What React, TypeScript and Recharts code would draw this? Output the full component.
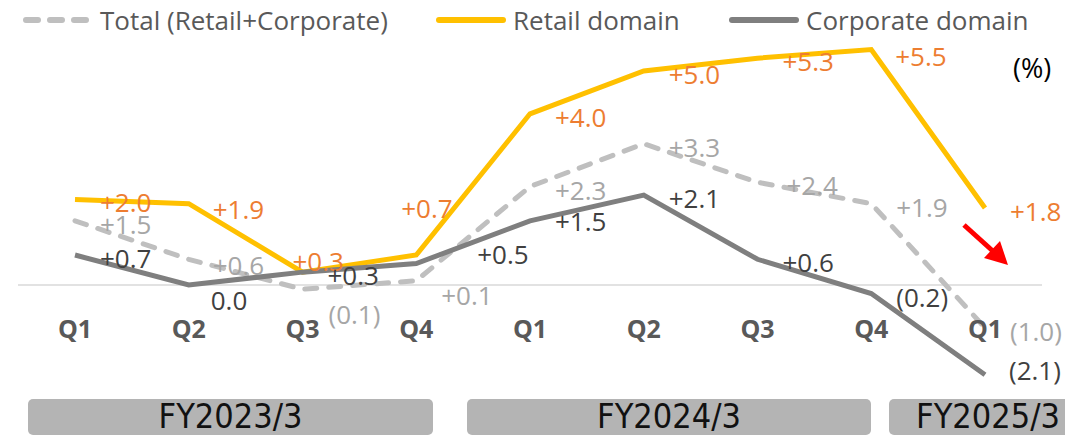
import { LineChart, Line, XAxis, YAxis, ReferenceLine, LabelList } from 'recharts';

const quarters = ['Q1', 'Q2', 'Q3', 'Q4', 'Q1', 'Q2', 'Q3', 'Q4', 'Q1'];
const total = [1.5, 0.6, -0.1, 0.1, 2.3, 3.3, 2.4, 1.9, -1.0];
const retail = [2.0, 1.9, 0.3, 0.7, 4.0, 5.0, 5.3, 5.5, 1.8];
const corporate = [0.7, 0.0, 0.3, 0.5, 1.5, 2.1, 0.6, -0.2, -2.1];
const fiscalYears = ['FY2023/3', 'FY2024/3', 'FY2025/3'];

const data = quarters.map((q, i) => ({ q, total: total[i], retail: retail[i], corporate: corporate[i] }));

const FONT = '"Segoe UI", "Open Sans", sans-serif';

// label nudges (dx from point to text start, dy from point to text middle)
const retailNudge: Record<number, [number, number]> = { 1: [24, 5], 2: [-10, -11], 3: [-15, -47], 7: [24, 6] };
const totalNudge: Record<number, [number, number]> = { 1: [24, 6], 2: [26, 25], 3: [25, 14], 6: [29, 3] };
const corpNudge: Record<number, [number, number]> = { 1: [22, 15], 3: [61, -10], 4: [25, 0], 8: [24, -5] };

const fmt = (v: number) => (v > 0 ? '+' + v.toFixed(1) : v === 0 ? '0.0' : '(' + Math.abs(v).toFixed(1) + ')');

const makeLabel = (color: string, nudge: Record<number, [number, number]>) => (props: any) => {
  const { x, y, value, index } = props;
  const [dx, dy] = nudge[index] ?? [25, 3];
  return (
    <text x={x + dx} y={y + dy} fill={color} fontSize={26} fontFamily={FONT} dominantBaseline="central" textAnchor="start">
      {fmt(value)}
    </text>
  );
};

const renderQTick = (props: any) => {
  const { x, y, payload } = props;
  return (
    <text x={x} y={y - 63} fill="#595959" fontSize={25} fontWeight={700} fontFamily={FONT} textAnchor="middle" dominantBaseline="central">
      {payload.value}
    </text>
  );
};

const legendItems = [
  { name: 'Total (Retail+Corporate)', color: '#BFBFBF', dash: '12 12', left: 22 },
  { name: 'Retail domain', color: '#FFC000', dash: undefined, left: 435 },
  { name: 'Corporate domain', color: '#7F7F7F', dash: undefined, left: 728 },
];

const fyBoxes = [
  { left: 28, width: 405 },
  { left: 467, width: 404 },
  { left: 889, width: 198 },
];

export default function App() {
  return (
    <div style={{ position: 'absolute', left: 0, top: 0, width: 1065, height: 435, overflow: 'hidden', background: '#fff' }}>
      <LineChart width={1065} height={435} data={data} margin={{ top: 32.5, right: 23, bottom: 21.6, left: 18 }}>
        <YAxis hide domain={[-2.3, 5.9]} allowDataOverflow />
        <XAxis dataKey="q" axisLine={false} tickLine={false} padding={{ left: 57, right: 57 }} tick={renderQTick} interval={0} />
        <ReferenceLine y={0} stroke="#D9D9D9" strokeWidth={1.5} />
        <Line dataKey="total" stroke="#BFBFBF" strokeWidth={5} strokeDasharray="12 12" strokeLinecap="round" dot={false} isAnimationActive={false}>
          <LabelList dataKey="total" content={makeLabel('#A6A6A6', totalNudge)} />
        </Line>
        <Line dataKey="retail" stroke="#FFC000" strokeWidth={5} dot={false} isAnimationActive={false}>
          <LabelList dataKey="retail" content={makeLabel('#ED7D31', retailNudge)} />
        </Line>
        <Line dataKey="corporate" stroke="#7F7F7F" strokeWidth={5} dot={false} isAnimationActive={false}>
          <LabelList dataKey="corporate" content={makeLabel('#404040', corpNudge)} />
        </Line>
      </LineChart>

      {legendItems.map((it) => (
        <div key={it.name} style={{ position: 'absolute', left: it.left, top: 2, height: 36, display: 'flex', alignItems: 'center', fontFamily: FONT, fontSize: 26, color: '#595959', whiteSpace: 'nowrap' }}>
          <svg width={72} height={10} style={{ marginRight: 6 }}>
            <line x1={4} y1={5} x2={68} y2={5} stroke={it.color} strokeWidth={6} strokeLinecap="round" strokeDasharray={it.dash} />
          </svg>
          {it.name}
        </div>
      ))}

      <div style={{ position: 'absolute', left: 1013, top: 49, fontFamily: FONT, fontSize: 27, color: '#000' }}>(%)</div>

      <svg width={1065} height={435} style={{ position: 'absolute', left: 0, top: 0, pointerEvents: 'none' }}>
        <line x1={964} y1={225} x2={995} y2={253} stroke="#FF0000" strokeWidth={5} />
        <polygon points="1008,265 984,258 1000,241" fill="#FF0000" />
      </svg>

      {fiscalYears.map((fy, i) => (
        <div key={fy} style={{ position: 'absolute', left: fyBoxes[i].left, top: 399, width: fyBoxes[i].width, height: 36, background: '#B4B4B4', borderRadius: 5, display: 'flex', justifyContent: 'center', alignItems: 'flex-start', fontFamily: '"Liberation Sans Narrow", "DejaVu Sans Condensed", sans-serif', fontSize: 34, color: '#111', lineHeight: '35px', boxSizing: 'border-box' }}>
          {fy}
        </div>
      ))}
    </div>
  );
}
